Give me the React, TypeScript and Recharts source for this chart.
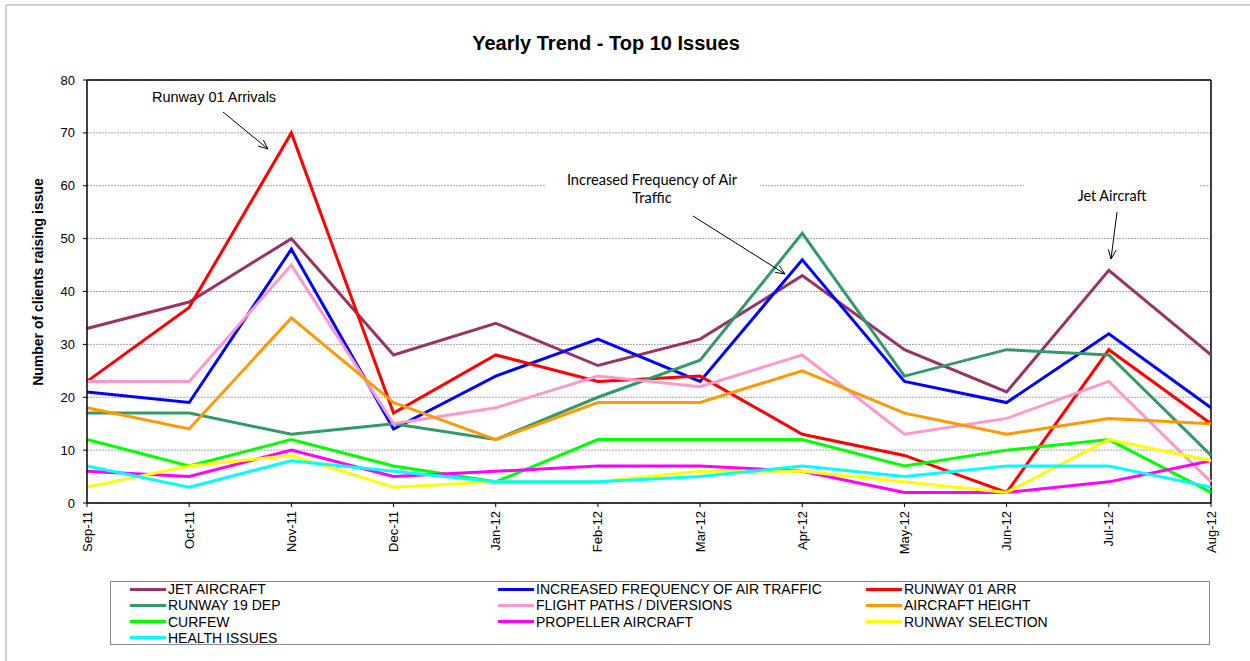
import React from "react";
import { LineChart, Line, XAxis, YAxis, CartesianGrid, ReferenceLine } from "recharts";

const months = ["Sep-11", "Oct-11", "Nov-11", "Dec-11", "Jan-12", "Feb-12", "Mar-12", "Apr-12", "May-12", "Jun-12", "Jul-12", "Aug-12"];

const jetAircraft = [33, 38, 50, 28, 34, 26, 31, 43, 29, 21, 44, 28];
const increasedFrequency = [21, 19, 48, 14, 24, 31, 23, 46, 23, 19, 32, 18];
const runway01Arr = [23, 37, 70, 17, 28, 23, 24, 13, 9, 2, 29, 15];
const runway19Dep = [17, 17, 13, 15, 12, 20, 27, 51, 24, 29, 28, 9];
const flightPaths = [23, 23, 45, 15, 18, 24, 22, 28, 13, 16, 23, 4];
const aircraftHeight = [18, 14, 35, 19, 12, 19, 19, 25, 17, 13, 16, 15];
const curfew = [12, 7, 12, 7, 4, 12, 12, 12, 7, 10, 12, 2];
const propellerAircraft = [6, 5, 10, 5, 6, 7, 7, 6, 2, 2, 4, 8];
const runwaySelection = [3, 7, 9, 3, 4, 4, 6, 6, 4, 2, 12, 8];
const healthIssues = [7, 3, 8, 6, 4, 4, 5, 7, 5, 7, 7, 3];

const yTicks = [0, 10, 20, 30, 40, 50, 60, 70, 80];

const SERIES = [
  { key: "jet", name: "JET AIRCRAFT", color: "#993366", values: jetAircraft },
  { key: "freq", name: "INCREASED FREQUENCY OF AIR TRAFFIC", color: "#0000FF", values: increasedFrequency },
  { key: "r01", name: "RUNWAY 01 ARR", color: "#FF0000", values: runway01Arr },
  { key: "r19", name: "RUNWAY 19 DEP", color: "#339966", values: runway19Dep },
  { key: "paths", name: "FLIGHT PATHS / DIVERSIONS", color: "#FF99CC", values: flightPaths },
  { key: "height", name: "AIRCRAFT HEIGHT", color: "#FF9900", values: aircraftHeight },
  { key: "curfew", name: "CURFEW", color: "#00FF00", values: curfew },
  { key: "prop", name: "PROPELLER AIRCRAFT", color: "#FF00FF", values: propellerAircraft },
  { key: "sel", name: "RUNWAY SELECTION", color: "#FFFF00", values: runwaySelection },
  { key: "health", name: "HEALTH ISSUES", color: "#00FFFF", values: healthIssues },
];

const data = months.map((m, i) => {
  const row: Record<string, string | number> = { month: m };
  SERIES.forEach(s => { row[s.key] = s.values[i]; });
  return row;
});

const FONT = "'Liberation Sans', Arial, sans-serif";
const CALLOUT_FONT = "Lato, 'Open Sans', sans-serif";

function MonthTick(props: any) {
  const { x, y, payload } = props;
  return (
    <g transform={`translate(${x},${y})`}>
      <text transform="rotate(-90)" x={-2} y={0} dy="0.35em" textAnchor="end" fontSize={13} fontFamily={FONT} fill="#000">
        {payload.value}
      </text>
    </g>
  );
}

function Arrow({ x1, y1, x2, y2 }: { x1: number; y1: number; x2: number; y2: number }) {
  const a = Math.atan2(y2 - y1, x2 - x1);
  const len = 10;
  const spread = 0.4;
  const p1 = [x2 - len * Math.cos(a - spread), y2 - len * Math.sin(a - spread)];
  const p2 = [x2 - len * Math.cos(a + spread), y2 - len * Math.sin(a + spread)];
  return (
    <g stroke="#000" strokeWidth={1} fill="none">
      <line x1={x1} y1={y1} x2={x2} y2={y2} />
      <polyline points={`${p1[0]},${p1[1]} ${x2},${y2} ${p2[0]},${p2[1]}`} />
    </g>
  );
}

function LegendBox() {
  return (
    <div style={{ position: "absolute", left: 110, top: 581, width: 1100, height: 64, border: "1px solid #8c8c8c", boxSizing: "border-box", fontFamily: FONT, fontSize: 14, color: "#000" }}>
      {SERIES.map((s, i) => {
        const col = i % 3;
        const row = Math.floor(i / 3);
        return (
          <div key={s.key} style={{ position: "absolute", left: 19 + col * 368, top: -1 + row * 16.3, height: 16, display: "flex", alignItems: "center", whiteSpace: "nowrap" }}>
            <span style={{ display: "inline-block", width: 36, height: 3, background: s.color, marginRight: 2 }} />
            <span>{s.name}</span>
          </div>
        );
      })}
    </div>
  );
}

export default function App() {
  return (
    <div style={{ position: "absolute", left: 0, top: 0, width: 1250, height: 661, background: "#fff", overflow: "hidden" }}>
      <LineChart width={1250} height={661} data={data} margin={{ top: 80, right: 39, bottom: 98, left: 47 }}>
        <CartesianGrid vertical={false} stroke="#a6a6a6" strokeDasharray="2 1" />
        <XAxis
          dataKey="month"
          interval={0}
          height={60}
          tick={<MonthTick />}
          tickSize={4}
          axisLine={{ stroke: "#000", strokeWidth: 1.5 }}
          tickLine={{ stroke: "#000" }}
        />
        <YAxis
          domain={[0, 80]}
          ticks={yTicks}
          width={40}
          tickSize={4}
          tickMargin={8}
          tick={{ fontSize: 13, fontFamily: FONT, fill: "#000" }}
          axisLine={{ stroke: "#000", strokeWidth: 1.5 }}
          tickLine={{ stroke: "#000" }}
        />
        <ReferenceLine y={80} stroke="#000" strokeWidth={1.5} />
        <ReferenceLine x="Aug-12" stroke="#000" strokeWidth={1.5} />
        {SERIES.map(s => (
          <Line key={s.key} type="linear" dataKey={s.key} name={s.name} stroke={s.color} strokeWidth={3} dot={false} isAnimationActive={false} />
        ))}
      </LineChart>

      <svg width={1250} height={661} style={{ position: "absolute", left: 0, top: 0, pointerEvents: "none" }}>
        <line x1={6} y1={5} x2={1250} y2={5} stroke="#a0a0a0" />
        <line x1={6} y1={5} x2={6} y2={661} stroke="#a0a0a0" />
        <text x={606} y={50} textAnchor="middle" fontFamily={FONT} fontWeight="bold" fontSize={20} fill="#000">
          Yearly Trend - Top 10 Issues
        </text>
        <text transform="translate(43,282) rotate(-90)" textAnchor="middle" fontFamily={FONT} fontWeight="bold" fontSize={14} fill="#000">
          Number of clients raising issue
        </text>

        <text x={152} y={102} fontFamily={FONT} fontSize={14.5} fill="#000">Runway 01 Arrivals</text>
        <Arrow x1={223} y1={112} x2={268} y2={149} />

        <rect x={546} y={183} width={214} height={6} fill="#fff" />
        <text x={652} y={185} textAnchor="middle" fontFamily={CALLOUT_FONT} fontSize={14.6} fill="#000">Increased Frequency of Air</text>
        <text x={652} y={203} textAnchor="middle" fontFamily={CALLOUT_FONT} fontSize={14.6} fill="#000">Traffic</text>
        <Arrow x1={693} y1={216} x2={785} y2={274} />

        <rect x={1024} y={183} width={176} height={6} fill="#fff" />
        <text x={1112} y={201} textAnchor="middle" fontFamily={CALLOUT_FONT} fontSize={14.4} fill="#000">Jet Aircraft</text>
        <Arrow x1={1117} y1={212} x2={1111} y2={259} />
      </svg>

      <LegendBox />
    </div>
  );
}
